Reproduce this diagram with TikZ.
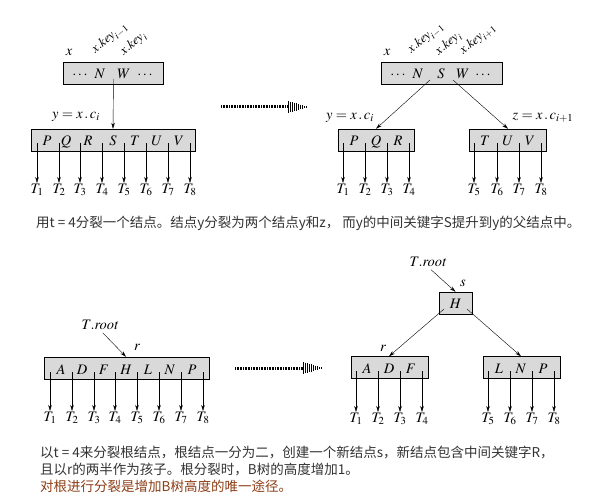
\documentclass[tikz,border=0pt]{standalone}
\usepackage{mathptmx}
\usepackage[no-math]{fontspec}
\newfontfamily\cjk{Noto Sans CJK SC}
\usepackage{xcolor}
\usepackage{tikz}
\usetikzlibrary{positioning,arrows.meta,calc}

\definecolor{captext}{RGB}{51,51,51}
\definecolor{capnote}{RGB}{140,62,22}

\tikzset{
  keybox/.style={draw, fill=gray!30, minimum height=22pt, inner sep=0pt},
  key/.style={anchor=base, inner sep=0pt},
  sub/.style={anchor=north, inner sep=1pt},
  ptr/.style={-{Stealth[length=6pt,width=3.5pt]}},
  tag/.style={inner sep=0pt},
  keytag/.style={rotate=40, anchor=south west, inner sep=0pt, font=\fontsize{13}{15}\selectfont},
  caption/.style={anchor=base west, inner sep=0pt, font=\cjk\fontsize{13.5}{16}\selectfont, text=captext},
  gostrip/.style={line width=3pt, dash pattern=on 0.8pt off 0.8pt},
}

\begin{document}
\begin{tikzpicture}[x=1pt,y=-1pt,font=\fontsize{14.5}{17}\selectfont]
  \useasboundingbox (0,0) rectangle (594,500);

  % full child y of x
  \node[keybox, minimum width=100pt] (xa) at (113,73.5) {};
  \foreach \k/\p [count=\i] in {\cdots/80, N/100, W/124, \cdots/145}
    \node[key] (xa-k\i) at (\p,79) {$\k$};
  \node[tag] (xa-x) at (69,52) {$x$};
  \node[keytag] (xa-l1) at (98,57) {$x.\mathit{key}_{i-1}$};
  \node[keytag] (xa-l2) at (126,58) {$x.\mathit{key}_{i}$};

  \node[keybox, minimum width=164pt] (ya) at (113,140) {};
  \foreach \k/\p [count=\i] in {P/47, Q/66, R/88, S/113, T/135, U/157, V/179}
    \node[key] (ya-k\i) at (\p,146) {$\k$};
  \foreach \p [count=\i] in {37,59,80,102,124,146,168,190} {
    \coordinate (ya-c\i) at (\p,143);
    \node[sub] (ya-t\i) at (\p,183) {$T_{\i}$};
    \draw[ptr] (ya-c\i) -- (ya-t\i);
  }
  \node[tag] (ya-y) at (76,117) {$y = x\,.\,c_i$};
  \coordinate (xa-p) at (113.5,79);
  \draw[ptr] (xa-p) -- (ya-k4 |- ya.north);

  % go arrow
  \coordinate (ga) at (221,107);
  \coordinate (gm) at (288,107);
  \coordinate (gb) at (308,107);
  \draw[gostrip] (ga) -- (gm);
  \foreach \k in {0,...,9}
    \draw[line width=1pt] ($(gm)+(2*\k,-6+0.6*\k)$) -- ($(gm)+(2*\k,6-0.6*\k)$);

  % after the split
  \node[keybox, minimum width=121pt] (xb) at (441.5,73.5) {};
  \foreach \k/\p [count=\i] in {\cdots/398, N/418, S/441, W/463, \cdots/483}
    \node[key] (xb-k\i) at (\p,79) {$\k$};
  \node[tag] (xb-x) at (387,52) {$x$};
  \node[keytag] (xb-l1) at (414,57) {$x.\mathit{key}_{i-1}$};
  \node[keytag] (xb-l2) at (441,58) {$x.\mathit{key}_{i}$};
  \node[keytag] (xb-l3) at (466,58) {$x.\mathit{key}_{i+1}$};

  \node[keybox, minimum width=76pt] (yb) at (376,140) {};
  \foreach \k/\p [count=\i] in {P/354, Q/376, R/398}
    \node[key] (yb-k\i) at (\p,146) {$\k$};
  \foreach \p [count=\i] in {343,365,387,409} {
    \coordinate (yb-c\i) at (\p,143);
    \node[sub] (yb-t\i) at (\p,183) {$T_{\i}$};
    \draw[ptr] (yb-c\i) -- (yb-t\i);
  }
  \node[tag] (yb-y) at (350,118) {$y = x\,.\,c_i$};

  \node[keybox, minimum width=77pt] (zb) at (507.5,140) {};
  \foreach \k/\p [count=\i] in {T/485, U/508, V/530}
    \node[key] (zb-k\i) at (\p,146) {$\k$};
  \foreach \p [count=\i] in {474,497,519,541} {
    \coordinate (zb-c\i) at (\p,143);
    \node[sub] (zb-t\i) at (\p,183) {$T_{\the\numexpr\i+4\relax}$};
    \draw[ptr] (zb-c\i) -- (zb-t\i);
  }
  \node[tag] (zb-z) at (543,118) {$z = x\,.\,c_{i+1}$};

  \coordinate (xb-p1) at (430,80);
  \coordinate (xb-p2) at (453,80);
  \draw[ptr] (xb-p1) -- (yb-k2 |- yb.north);
  \draw[ptr] (xb-p2) -- (zb-k2 |- zb.north);

  \node[caption] (cap1) at (36,227) {用t = 4分裂一个结点。结点y分裂为两个结点y和z， 而y的中间关键字S提升到y的父结点中。};

  % full root r
  \node[tag] (ra-root) at (100,325) {$T.\mathit{root}$};
  \node[keybox, minimum width=165pt] (ra) at (126.5,368) {};
  \foreach \k/\p [count=\i] in {A/61, D/82, F/104, H/126, L/148, N/170, P/192}
    \node[key] (ra-k\i) at (\p,374) {$\k$};
  \foreach \p [count=\i] in {50,72,94,115,137,159,181,203} {
    \coordinate (ra-c\i) at (\p,372);
    \node[sub] (ra-t\i) at (\p,411) {$T_{\i}$};
    \draw[ptr] (ra-c\i) -- (ra-t\i);
  }
  \node[tag] (ra-r) at (137,347) {$r$};
  \draw[ptr, shorten <=4pt] (ra-root.south) -- (ra-k4 |- ra.north);

  % go arrow
  \coordinate (ha) at (235,368);
  \coordinate (hm) at (303,368);
  \coordinate (hb) at (323,368);
  \draw[gostrip] (ha) -- (hm);
  \foreach \k in {0,...,9}
    \draw[line width=1pt] ($(hm)+(2*\k,-6+0.6*\k)$) -- ($(hm)+(2*\k,6-0.6*\k)$);

  % new root s
  \node[tag] (sb-root) at (428,262) {$T.\mathit{root}$};
  \node[keybox, minimum width=33pt] (sb) at (455.5,303) {};
  \node[key] (sb-k1) at (455.5,308) {$H$};
  \node[tag] (sb-s) at (463,283) {$s$};
  \draw[ptr, shorten <=4pt] (sb-root.south) -- (sb.north);

  \node[keybox, minimum width=77pt] (rb) at (389.5,367.5) {};
  \foreach \k/\p [count=\i] in {A/367, D/389, F/411}
    \node[key] (rb-k\i) at (\p,373) {$\k$};
  \foreach \p [count=\i] in {356,378,400,422} {
    \coordinate (rb-c\i) at (\p,371);
    \node[sub] (rb-t\i) at (\p,412) {$T_{\i}$};
    \draw[ptr] (rb-c\i) -- (rb-t\i);
  }
  \node[tag] (rb-r) at (383,348) {$r$};

  \node[keybox, minimum width=77pt] (qb) at (521.5,367.5) {};
  \foreach \k/\p [count=\i] in {L/499, N/521, P/543}
    \node[key] (qb-k\i) at (\p,373) {$\k$};
  \foreach \p [count=\i] in {488,510,532,554} {
    \coordinate (qb-c\i) at (\p,371);
    \node[sub] (qb-t\i) at (\p,412) {$T_{\the\numexpr\i+4\relax}$};
    \draw[ptr] (qb-c\i) -- (qb-t\i);
  }

  \coordinate (sb-p1) at (444,309);
  \coordinate (sb-p2) at (467,309);
  \draw[ptr] (sb-p1) -- (rb-k2 |- rb.north);
  \draw[ptr] (sb-p2) -- (qb-k2 |- qb.north);

  \node[caption] (cap2) at (40,457) {以t = 4来分裂根结点，根结点一分为二，创建一个新结点s，新结点包含中间关键字R，};
  \node[caption] (cap3) at (40,474) {且以r的两半作为孩子。根分裂时，B树的高度增加1。};
  \node[caption, text=capnote] (cap4) at (40,491) {对根进行分裂是增加B树高度的唯一途径。};
\end{tikzpicture}
\end{document}
